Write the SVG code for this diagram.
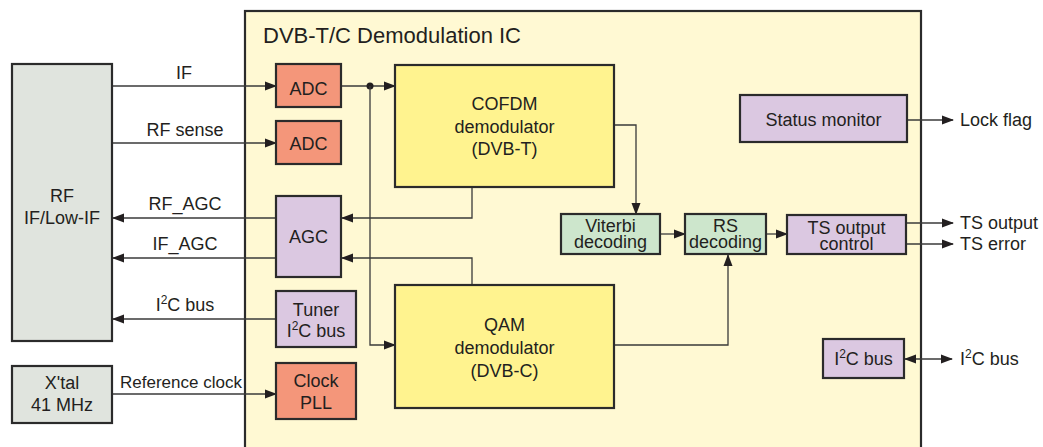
<svg xmlns="http://www.w3.org/2000/svg" width="1043" height="447" viewBox="0 0 1043 447">
<style>
text{font-family:"Liberation Sans",Arial,sans-serif;font-size:18px;fill:#231f20}
.c{text-anchor:middle}
.box{stroke:#2b2b2b;stroke-width:2.2}
.ln{fill:none;stroke:#3a3a3a;stroke-width:1.3}
.adc{fill:#f4967a}
.lav{fill:#dbc8e1}
.yel{fill:#fff38f}
.grn{fill:#cde6cc}
.gry{fill:#e0e4de}
.sm{font-size:17px}
</style>
<defs>
<marker id="a" markerUnits="userSpaceOnUse" markerWidth="12" markerHeight="10" refX="11" refY="5" orient="auto">
<path d="M0,0.5 L12,5 L0,9.5 Z" fill="#231f20"/>
</marker>
<marker id="as" markerUnits="userSpaceOnUse" markerWidth="12" markerHeight="10" refX="1" refY="5" orient="auto">
<path d="M12,0.5 L0,5 L12,9.5 Z" fill="#231f20"/>
</marker>
</defs>
<rect width="1043" height="447" fill="#ffffff"/>
<g id="ic">
<rect class="box" x="245" y="11" width="676" height="450" fill="#fff9d3"/>
<text x="263" y="43" style="font-size:22px">DVB-T/C Demodulation IC</text>
</g>
<g id="connectors">
<line class="ln" x1="112" y1="86" x2="276" y2="86" marker-end="url(#a)"/>
<text class="c" x="184" y="79">IF</text>
<line class="ln" x1="112" y1="143" x2="276" y2="143" marker-end="url(#a)"/>
<text class="c" x="185" y="136">RF sense</text>
<line class="ln" x1="275" y1="218" x2="113" y2="218" marker-end="url(#a)"/>
<text class="c" x="185" y="210">RF_AGC</text>
<line class="ln" x1="275" y1="258" x2="113" y2="258" marker-end="url(#a)"/>
<text class="c" x="185" y="250">IF_AGC</text>
<line class="ln" x1="275" y1="319" x2="113" y2="319" marker-end="url(#a)"/>
<text class="c" x="185" y="311">I<tspan font-size="12" dy="-7">2</tspan><tspan dy="7">C bus</tspan></text>
<line class="ln" x1="112" y1="394" x2="276" y2="394" marker-end="url(#a)"/>
<text class="c sm" x="181" y="388">Reference clock</text>
<line class="ln" x1="341" y1="86" x2="395" y2="86" marker-end="url(#a)"/>
<circle cx="370" cy="86" r="3.5" fill="#231f20"/>
<polyline class="ln" points="370,86 370,345 395,345" marker-end="url(#a)"/>
<polyline class="ln" points="472,187 472,218 342,218" marker-end="url(#a)"/>
<polyline class="ln" points="472,285 472,258 342,258" marker-end="url(#a)"/>
<polyline class="ln" points="614,125 636,125 636,214" marker-end="url(#a)"/>
<line class="ln" x1="660" y1="234" x2="685" y2="234" marker-end="url(#a)"/>
<line class="ln" x1="766" y1="234" x2="787" y2="234" marker-end="url(#a)"/>
<polyline class="ln" points="614,345 728,345 728,255" marker-end="url(#a)"/>
<line class="ln" x1="907" y1="120" x2="953" y2="120" marker-end="url(#a)"/>
<line class="ln" x1="906" y1="223" x2="953" y2="223" marker-end="url(#a)"/>
<line class="ln" x1="906" y1="244" x2="953" y2="244" marker-end="url(#a)"/>
<line class="ln" x1="905" y1="359" x2="952" y2="359" marker-start="url(#as)" marker-end="url(#a)"/>
<text x="960" y="126">Lock flag</text>
<text x="960" y="229">TS output</text>
<text x="960" y="250">TS error</text>
<text x="960" y="365">I<tspan font-size="12" dy="-7">2</tspan><tspan dy="7">C bus</tspan></text>
</g>
<g id="rf">
<rect class="box gry" x="12" y="64" width="100" height="277"/>
<text class="c" x="62" y="202">RF</text>
<text class="c" x="62" y="224">IF/Low-IF</text>
</g>
<g id="xtal">
<rect class="box gry" x="12" y="366" width="100" height="57"/>
<text class="c" x="62" y="389">X'tal</text>
<text class="c" x="62" y="411">41 MHz</text>
</g>
<g id="adc1">
<rect class="box adc" x="276" y="64" width="65" height="43"/>
<text class="c" x="308.5" y="95">ADC</text>
</g>
<g id="adc2">
<rect class="box adc" x="276" y="121" width="65" height="43"/>
<text class="c" x="308.5" y="150">ADC</text>
</g>
<g id="agc">
<rect class="box lav" x="276" y="196" width="65" height="81"/>
<text class="c" x="308.5" y="243">AGC</text>
</g>
<g id="tuner">
<rect class="box lav" x="276" y="291" width="80" height="56"/>
<text class="c" x="316" y="316">Tuner</text>
<text class="c" x="316" y="337">I<tspan font-size="12" dy="-7">2</tspan><tspan dy="7">C bus</tspan></text>
</g>
<g id="pll">
<rect class="box adc" x="276" y="363" width="80" height="56"/>
<text class="c" x="316" y="387">Clock</text>
<text class="c" x="316" y="409">PLL</text>
</g>
<g id="cofdm">
<rect class="box yel" x="395" y="65" width="219" height="122"/>
<text class="c" x="504.5" y="110">COFDM</text>
<text class="c" x="504.5" y="133">demodulator</text>
<text class="c" x="504.5" y="155">(DVB-T)</text>
</g>
<g id="qam">
<rect class="box yel" x="395" y="285" width="219" height="123"/>
<text class="c" x="504.5" y="331">QAM</text>
<text class="c" x="504.5" y="354">demodulator</text>
<text class="c" x="504.5" y="377">(DVB-C)</text>
</g>
<g id="viterbi">
<rect class="box grn" x="561" y="214" width="99" height="40"/>
<text class="c" x="610.5" y="232">Viterbi</text>
<text class="c" x="610.5" y="248">decoding</text>
</g>
<g id="rs">
<rect class="box grn" x="685" y="214" width="81" height="40"/>
<text class="c" x="725.5" y="232">RS</text>
<text class="c" x="725.5" y="248">decoding</text>
</g>
<g id="tsout">
<rect class="box lav" x="787" y="215" width="119" height="39"/>
<text class="c" x="846.5" y="234">TS output</text>
<text class="c" x="846.5" y="250">control</text>
</g>
<g id="status">
<rect class="box lav" x="740" y="95" width="167" height="47"/>
<text class="c" x="823.5" y="126">Status monitor</text>
</g>
<g id="i2c">
<rect class="box lav" x="823" y="339" width="81" height="39"/>
<text class="c" x="863.5" y="365">I<tspan font-size="12" dy="-7">2</tspan><tspan dy="7">C bus</tspan></text>
</g>
</svg>
